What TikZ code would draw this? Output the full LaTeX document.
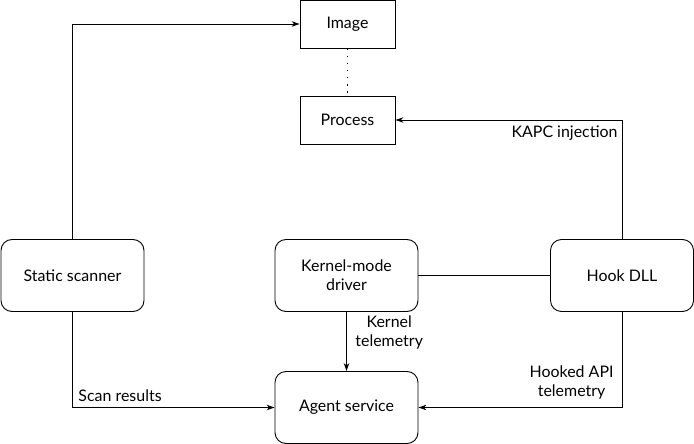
\documentclass[tikz,border=0pt]{standalone}
\usepackage{fontspec}
\setmainfont{Lato}
\usetikzlibrary{arrows.meta,positioning}
\begin{document}
\begin{tikzpicture}[x=1bp,y=-1bp,
  line width=0.9pt,
  box/.style={draw,minimum width=#1,inner sep=0pt,align=center,font=\fontsize{16}{19}\selectfont},
  sq/.style={box=95bp,minimum height=48bp},
  rnd/.style={box=143bp,minimum height=72bp,rounded corners=11bp},
  lbl/.style={font=\fontsize{16}{19}\selectfont,inner sep=0pt,align=#1},
  arr/.style={-{Stealth[length=8pt,width=5.5pt]}}
]
\useasboundingbox (0,0) rectangle (694,444);
\node[sq] (img) at (347.5,24) {Image};
\node[sq] (proc) at (347.5,120) {Process};
\node[rnd] (scan) at (72.5,275.5) {Static scanner};
\node[rnd] (kmd) at (346.5,275.5) {Kernel-mode\\driver};
\node[rnd] (hook) at (622,275.5) {Hook DLL};
\node[rnd] (agent) at (346.5,407.5) {Agent service};
\draw[dash pattern=on 1.2pt off 6pt] (img) -- (proc);
\draw[arr] (scan.north) |- (img.west);
\draw[arr] (scan.south) |- (agent.west);
\draw[arr] (hook.north) |- (proc.east);
\draw[arr] (hook.south) |- (agent.east);
\draw[arr] (kmd) -- (agent);
\draw (kmd.east) -- (hook.west);
\node[lbl=left,anchor=south west] (l1) at (78,402) {Scan results};
\node[lbl=center,anchor=north west] (l2) at (355,315) {Kernel\\telemetry};
\node[lbl=right,anchor=south east] (l3) at (618,141) {KAPC injection};
\node[lbl=center,anchor=south east] (l4) at (614,400) {Hooked API\\telemetry};
\end{tikzpicture}
\end{document}
